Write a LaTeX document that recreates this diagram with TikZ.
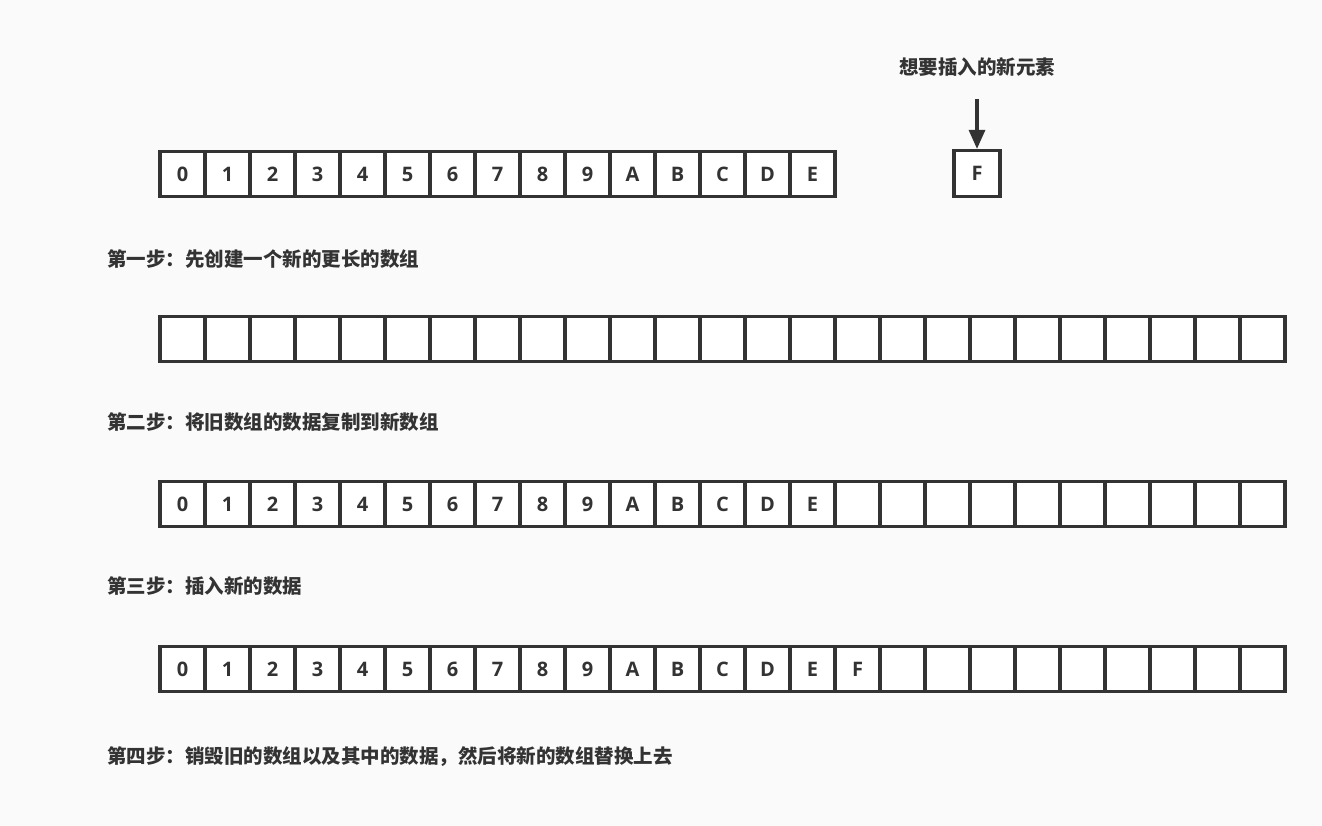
\documentclass[tikz,border=0pt]{standalone}
\usepackage{fontspec}
\setmainfont{Open Sans}
\newfontfamily\cjk{Noto Sans CJK SC}
\usetikzlibrary{arrows.meta}
\definecolor{ink}{HTML}{333333}
\definecolor{bg}{HTML}{FAFAFA}
\tikzset{
  cellbox/.style={draw=ink, line width=3.2pt, fill=white, minimum width=45pt, minimum height=44.5pt, inner sep=0pt, font=\fontsize{20}{22}\selectfont\bfseries, text=ink},
  steplabel/.style={anchor=west, inner sep=0pt, text=ink, font=\cjk\fontsize{19.5}{22}\selectfont\bfseries},
  arrowline/.style={draw=ink, line width=3.2pt, -{Triangle[length=19pt,width=16pt]}}
}
\begin{document}
\begin{tikzpicture}[x=1pt,y=1pt]
\fill[bg] (0,0) rectangle (1322,-826);
\useasboundingbox (0,0) rectangle (1322,-826);
% row 1: old array
\foreach \t [count=\i from 0] in {0,1,2,3,4,5,6,7,8,9,A,B,C,D,E} {
  \node[cellbox] (a\i) at ({182.5+45*\i},-174) {\t};
}
% new element
\node[cellbox, minimum width=46pt, minimum height=46pt] (f) at (977,-173.5) {F};
\node[anchor=center, inner sep=0pt, text=ink, font=\cjk\fontsize{19.5}{22}\selectfont\bfseries] (title) at (977,-67) {想要插入的新元素};
\coordinate (arrstart) at (977,-99);
\draw[arrowline] (arrstart) -- (f.north);
% step 1
\node[steplabel] (s1) at (107,-259) {第一步：先创建一个新的更长的数组};
\foreach \i in {0,...,24} {
  \node[cellbox] (b\i) at ({182.5+45*\i},-339) {};
}
% step 2
\node[steplabel] (s2) at (107,-422) {第二步：将旧数组的数据复制到新数组};
\foreach \t [count=\i from 0] in {0,1,2,3,4,5,6,7,8,9,A,B,C,D,E,{},{},{},{},{},{},{},{},{},{}} {
  \node[cellbox] (c\i) at ({182.5+45*\i},-504) {\t};
}
% step 3
\node[steplabel] (s3) at (107,-586) {第三步：插入新的数据};
\foreach \t [count=\i from 0] in {0,1,2,3,4,5,6,7,8,9,A,B,C,D,E,F,{},{},{},{},{},{},{},{},{}} {
  \node[cellbox] (d\i) at ({182.5+45*\i},-669) {\t};
}
% step 4
\node[steplabel] (s4) at (107,-757) {第四步：销毁旧的数组以及其中的数据，然后将新的数组替换上去};
\end{tikzpicture}
\end{document}
